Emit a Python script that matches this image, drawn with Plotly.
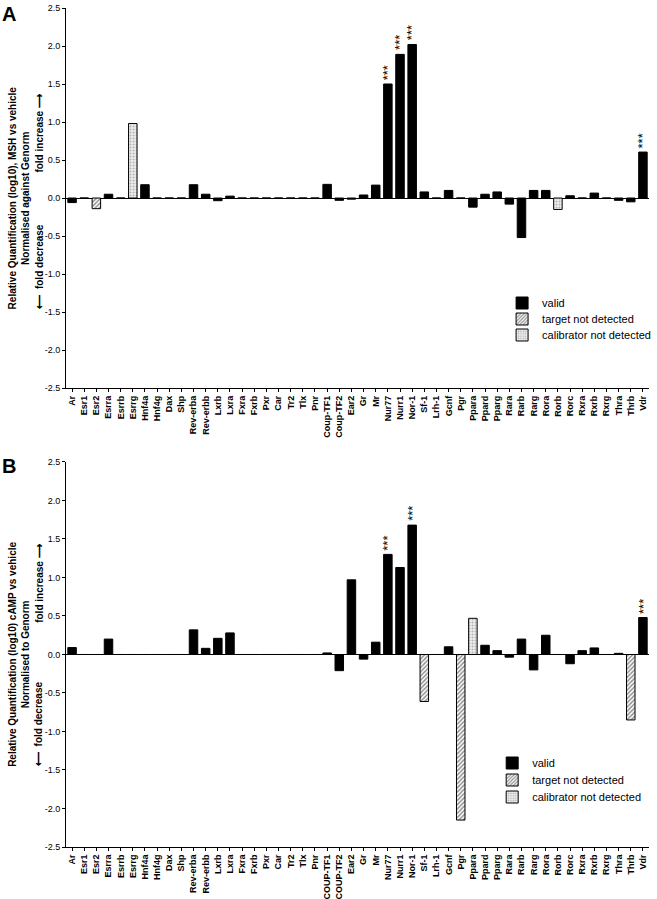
import plotly.graph_objects as go

cats_a = ["Ar", "Esr1", "Esr2", "Esrra", "Esrrb", "Esrrg", "Hnf4a", "Hnf4g", "Dax", "Shp",
          "Rev-erba", "Rev-erbb", "Lxrb", "Lxra", "Fxra", "Fxrb", "Pxr", "Car", "Tr2", "Tlx",
          "Pnr", "Coup-TF1", "Coup-TF2", "Ear2", "Gr", "Mr", "Nur77", "Nurr1", "Nor-1", "Sf-1",
          "Lrh-1", "Gcnf", "Pgr", "Ppara", "Ppard", "Pparg", "Rara", "Rarb", "Rarg", "Rora",
          "Rorb", "Rorc", "Rxra", "Rxrb", "Rxrg", "Thra", "Thrb", "Vdr"]
cats_b = [c.replace("Coup-TF", "COUP-TF") for c in cats_a]

vals_a = [-0.06, 0, -0.14, 0.05, 0, 0.98, 0.175, 0, 0, 0,
          0.175, 0.05, -0.035, 0.025, 0, 0, 0, 0, 0, 0,
          0, 0.18, -0.03, -0.015, 0.04, 0.17, 1.50, 1.89, 2.02, 0.08,
          0, 0.10, 0, -0.12, 0.05, 0.08, -0.08, -0.52, 0.10, 0.10,
          -0.15, 0.03, 0, 0.065, 0, -0.03, -0.05, 0.605]
status_a = ["v"] * 48
status_a[2] = "t"
status_a[5] = "c"
status_a[40] = "c"

vals_b = [0.09, 0, 0, 0.20, 0, 0, 0, 0, 0, 0,
          0.32, 0.08, 0.21, 0.28, 0, 0, 0, 0, 0, 0,
          0, 0.02, -0.21, 0.97, -0.06, 0.16, 1.30, 1.13, 1.68, -0.61,
          0, 0.10, -2.15, 0.47, 0.12, 0.05, -0.035, 0.20, -0.20, 0.25,
          0, -0.12, 0.05, 0.085, 0, 0.015, -0.85, 0.48]
status_b = ["v"] * 48
status_b[29] = "t"
status_b[32] = "t"
status_b[33] = "c"
status_b[46] = "t"

stars_a = ["Nur77", "Nurr1", "Nor-1", "Vdr"]
stars_b = ["Nur77", "Nor-1", "Vdr"]

ytick_vals = [-2.5, -2.0, -1.5, -1.0, -0.5, 0.0, 0.5, 1.0, 1.5, 2.0, 2.5]
ytick_text = ["-2.5", "-2.0", "-1.5", "-1.0", "-0.5", "0.0", "0.5", "1.0", "1.5", "2.0", "2.5"]

FONT = "Arial, Liberation Sans, sans-serif"

styles = {
    "v": dict(name="valid", color="black", pattern=None),
    "t": dict(name="target not detected", color="white",
              pattern=dict(shape="/", fgcolor="#222222", bgcolor="#ffffff", size=3, solidity=0.5)),
    "c": dict(name="calibrator not detected", color="white",
              pattern=dict(shape=".", fgcolor="#777777", bgcolor="#eeeeee", size=3, solidity=0.35)),
}
codes = ["v", "t", "c"]

fig = go.Figure()

def add_panel(cats, vals, status, xa, ya, legends):
    for code, lg in zip(codes, legends):
        st = styles[code]
        y = [v if s == code else None for v, s in zip(vals, status)]
        marker = dict(color=st["color"], line=dict(color="black", width=1))
        if st["pattern"]:
            marker["pattern"] = st["pattern"]
        fig.add_trace(go.Bar(x=cats, y=y, name=st["name"], marker=marker, width=0.7,
                             xaxis=xa, yaxis=ya, legend=lg, showlegend=True))

add_panel(cats_a, vals_a, status_a, "x", "y", ["legend", "legend2", "legend3"])
add_panel(cats_b, vals_b, status_b, "x2", "y2", ["legend4", "legend5", "legend6"])

def star_annots(cats, vals, stars, xr, yr):
    out = []
    for c in stars:
        v = vals[cats.index(c)]
        out.append(dict(x=c, y=v, xref=xr, yref=yr, text="***", showarrow=False,
                        textangle=-90, yanchor="bottom", yshift=2,
                        font=dict(size=13, family=FONT, color="black")))
    return out

annots = []
annots += star_annots(cats_a, vals_a, stars_a, "x", "y")
annots += star_annots(cats_b, vals_b, stars_b, "x2", "y2")

def side_annots(title, yr, inc_y, dec_y):
    return [
        dict(x=-0.08, y=0, xref="paper", yref=yr, text=title, showarrow=False, textangle=-90,
             xanchor="center", yanchor="middle",
             font=dict(size=10, family=FONT, color="black")),
        dict(x=-0.046, y=inc_y, xref="paper", yref=yr, text="<b>fold increase \u27f6</b>",
             showarrow=False, textangle=-90, xanchor="center", yanchor="middle",
             font=dict(size=10, family=FONT, color="black")),
        dict(x=-0.046, y=dec_y, xref="paper", yref=yr, text="<b>\u27f5  fold decrease</b>",
             showarrow=False, textangle=-90, xanchor="center", yanchor="middle",
             font=dict(size=10, family=FONT, color="black")),
    ]

annots += side_annots("<b>Relative Quantification (log10), MSH vs vehicle<br>Normalised against Genorm</b>",
                      "y", 0.85, -0.9)
annots += side_annots("<b>Relative Quantification (log10) cAMP vs vehicle<br>Normalised to Genorm</b>",
                      "y2", 0.92, -0.9)

annots.append(dict(x=0, y=1, xref="paper", yref="paper", text="<b>A</b>", showarrow=False,
                   xanchor="center", yanchor="middle", xshift=-57, yshift=-6,
                   font=dict(size=20, family=FONT, color="black")))
annots.append(dict(x=0, y=0.4589, xref="paper", yref="paper", text="<b>B</b>", showarrow=False,
                   xanchor="center", yanchor="middle", xshift=-57, yshift=-4,
                   font=dict(size=20, family=FONT, color="black")))

xaxis_common = dict(type="category", showline=True, linecolor="black", linewidth=1,
                    ticks="outside", ticklen=3, tickcolor="black", tickangle=-90,
                    tickfont=dict(size=9, family=FONT, color="black"),
                    showgrid=False, range=[-0.5, 47.5], fixedrange=True, automargin=False)
yaxis_common = dict(range=[-2.5, 2.5], tickvals=ytick_vals, ticktext=ytick_text,
                    showline=True, linecolor="black", linewidth=1, ticks="outside",
                    ticklen=3, tickcolor="black", showgrid=False, zeroline=True,
                    zerolinecolor="black", zerolinewidth=1, automargin=False,
                    tickfont=dict(size=9, family=FONT, color="black"))

legend_common = dict(font=dict(size=11, family=FONT, color="black"), bgcolor="rgba(0,0,0,0)",
                     xanchor="left", yanchor="middle", tracegroupgap=0, itemwidth=30)

# legend rows in pixel positions -> paper coords (plot spans y 8..847, height 839)
def py(pix):
    return (847 - pix) / 839

fig.update_layout(
    width=657, height=899,
    margin=dict(l=66, r=1, t=8, b=52),
    paper_bgcolor="white", plot_bgcolor="white",
    font=dict(family=FONT, color="black"),
    barmode="overlay",
    bargap=0.3,
    xaxis=dict(xaxis_common, domain=[0, 1], anchor="y"),
    yaxis=dict(yaxis_common, domain=[0.547, 1.0], anchor="x"),
    xaxis2=dict(xaxis_common, domain=[0, 1], anchor="y2"),
    yaxis2=dict(yaxis_common, domain=[0.0, 0.4589], anchor="x2"),
    legend=dict(legend_common, x=0.748, y=py(303)),
    legend2=dict(legend_common, x=0.748, y=py(319)),
    legend3=dict(legend_common, x=0.748, y=py(335)),
    legend4=dict(legend_common, x=0.731, y=py(763)),
    legend5=dict(legend_common, x=0.731, y=py(780)),
    legend6=dict(legend_common, x=0.731, y=py(797)),
    annotations=annots,
)

fig.update_xaxes(tickprefix="<b>", ticksuffix="</b>")
fig.update_yaxes(tickprefix="<b>", ticksuffix="</b>")

fig.write_html("out.html", config={"displayModeBar": False},
               post_script="document.body.style.margin='0';document.body.style.overflow='hidden';")
